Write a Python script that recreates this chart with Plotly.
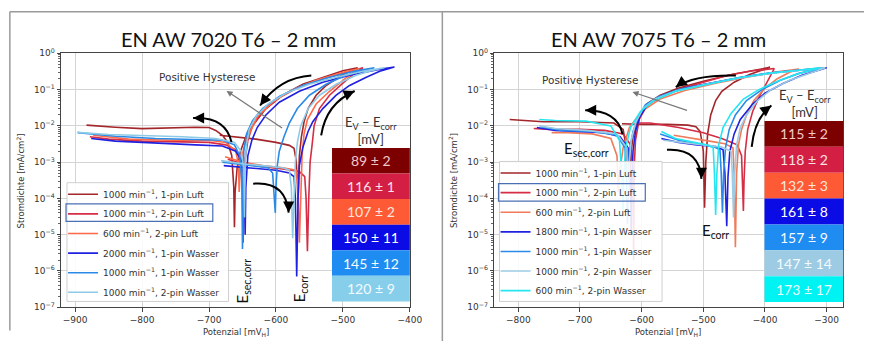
import plotly.graph_objects as go

W, H = 877, 346

# ---------------- data: EN AW 7020 T6 (left) ----------------
names_7020 = ["1000 min<sup>−1</sup>, 1-pin Luft", "1000 min<sup>−1</sup>, 2-pin Luft",
              "600 min<sup>−1</sup>, 2-pin Luft", "2000 min<sup>−1</sup>, 1-pin Wasser",
              "1000 min<sup>−1</sup>, 1-pin Wasser", "1000 min<sup>−1</sup>, 2-pin Wasser"]

E_L1 = [-684, -660, -630, -600, -580, -573, -570, -568, -567, -566, -565, -562, -558, -552, -540, -525, -505, -490, -478,
        -500, -530, -560, -590, -615, -632, -645, -653, -658, -661, -662, -663, -666, -672, -680, -690, -700, -720, -760, -800, -840, -883]
J_L1 = [5.5e-3, 5.0e-3, 4.3e-3, 3.5e-3, 2.9e-3, 2.4e-3, 1.2e-3, 3e-4, 6e-5, 4e-4, 1.5e-3, 5e-3, 1.3e-2, 3e-2, 7e-2, 0.13, 0.23, 0.32, 0.40,
        0.33, 0.22, 0.14, 0.07, 0.03, 0.012, 5e-3, 2e-3, 7e-4, 1.5e-4, 1.6e-5, 2e-4, 1.5e-3, 3.5e-3, 5.5e-3, 7.5e-3, 9e-3, 9.2e-3, 8.6e-3, 8.4e-3, 9.2e-3, 1.05e-2]

E_L2 = [-672, -650, -620, -590, -565, -557, -555, -553, -551, -549, -546, -543, -535, -520, -500, -485, -470,
        -495, -530, -565, -595, -620, -635, -642, -646, -648, -649, -650, -653, -660, -675, -700, -750, -800, -850, -878]
J_L2 = [1.2e-3, 9e-4, 7.5e-4, 6.5e-4, 5.5e-4, 4e-4, 1e-4, 3.5e-6, 1e-4, 1e-3, 3e-3, 1e-2, 3e-2, 7e-2, 0.15, 0.26, 0.40,
        0.30, 0.20, 0.12, 0.06, 0.025, 0.01, 4e-3, 1.2e-3, 2e-4, 6e-6, 2e-4, 1.2e-3, 2.2e-3, 3e-3, 3.5e-3, 3.6e-3, 3.8e-3, 4.3e-3, 5e-3]

E_L3 = [-676, -650, -620, -590, -570, -567, -565, -563, -561, -558, -553, -540, -520, -500, -487, -475,
        -500, -540, -575, -605, -628, -640, -648, -653, -655, -656, -660, -675, -700, -760, -820, -873]
J_L3 = [1.4e-3, 1e-3, 8e-4, 7e-4, 6e-4, 2e-4, 6e-6, 2e-4, 1.5e-3, 6e-3, 1.5e-2, 4e-2, 9e-2, 0.18, 0.28, 0.38,
        0.30, 0.18, 0.10, 0.045, 0.018, 6e-3, 2.5e-3, 9e-4, 1.5e-4, 9e-4, 2e-3, 3.5e-3, 4e-3, 4e-3, 4.3e-3, 5.5e-3]

E_L4 = [-678, -660, -630, -600, -580, -573, -571, -569, -567, -565, -560, -552, -545, -530, -510, -490, -465, -445, -423,
        -450, -490, -530, -565, -595, -615, -628, -636, -642, -645, -646, -647, -650, -660, -680, -720, -780, -840, -876]
J_L4 = [8e-4, 7.5e-4, 7e-4, 6e-4, 5e-4, 4e-4, 1e-4, 7e-7, 1e-4, 8e-4, 2.5e-3, 7e-3, 1.3e-2, 3e-2, 7e-2, 0.13, 0.22, 0.32, 0.42,
        0.35, 0.25, 0.16, 0.09, 0.045, 0.02, 9e-3, 4e-3, 1.5e-3, 2e-4, 1e-5, 2e-4, 1e-3, 2e-3, 2.8e-3, 3e-3, 3.3e-3, 3.8e-3, 4.5e-3]

E_L5 = [-680, -660, -635, -612, -605, -603, -601, -600, -598, -595, -588, -580, -568, -550, -525, -500, -475, -453,
        -480, -520, -560, -595, -620, -635, -644, -648, -649, -650, -651, -654, -662, -680, -720, -780, -840, -896]
J_L5 = [1e-3, 9e-4, 8e-4, 7e-4, 5e-4, 1e-4, 4e-5, 2e-4, 8e-4, 2e-3, 5e-3, 1.2e-2, 3e-2, 7e-2, 0.14, 0.23, 0.32, 0.40,
        0.33, 0.22, 0.13, 0.065, 0.03, 0.014, 6e-3, 2e-3, 4e-4, 4e-6, 3e-4, 1.5e-3, 3e-3, 4e-3, 4.2e-3, 4.5e-3, 5.2e-3, 6.5e-3]

E_L6 = [-682, -650, -620, -590, -580, -577, -575, -573, -571, -568, -563, -552, -535, -510, -480, -458, -438,
        -470, -510, -550, -585, -612, -630, -640, -644, -646, -647, -648, -652, -662, -690, -740, -800, -850, -897]
J_L6 = [1.1e-3, 9e-4, 8e-4, 7e-4, 6e-4, 2e-4, 8e-6, 2e-4, 1e-3, 3.5e-3, 1e-2, 3e-2, 7e-2, 0.14, 0.25, 0.33, 0.40,
        0.32, 0.22, 0.14, 0.08, 0.04, 0.018, 8e-3, 3e-3, 8e-4, 3e-5, 6e-4, 2e-3, 3.5e-3, 4.5e-3, 5e-3, 5.3e-3, 5.8e-3, 6.6e-3]

table_7020 = ["89 ± 2", "116 ± 1", "107 ± 2", "150 ± 11", "145 ± 12", "120 ± 9"]

# ---------------- data: EN AW 7075 T6 (right) ----------------
names_7075 = ["1000 min<sup>−1</sup>, 1-pin Luft", "1000 min<sup>−1</sup>, 2-pin Luft",
              "600 min<sup>−1</sup>, 2-pin Luft", "1800 min<sup>−1</sup>, 1-pin Wasser",
              "1000 min<sup>−1</sup>, 1-pin Wasser", "1000 min<sup>−1</sup>, 2-pin Wasser",
              "600 min<sup>−1</sup>, 2-pin Wasser"]

E_R1 = [-632, -600, -560, -525, -512, -505, -500, -498, -496, -493, -488, -480, -470, -450, -425, -405, -392,
        -410, -450, -500, -540, -570, -592, -606, -614, -618, -620, -622, -624, -630, -645, -700, -760, -790, -814]
J_R1 = [1.15e-2, 1.1e-2, 1.1e-2, 1.05e-2, 9.5e-3, 7e-3, 2e-3, 5.5e-5, 1e-3, 6e-3, 2e-2, 5e-2, 9e-2, 0.16, 0.26, 0.35, 0.41,
        0.36, 0.27, 0.17, 0.11, 0.07, 0.04, 0.015, 5e-3, 1.5e-3, 3e-4, 1e-4, 2e-3, 8e-3, 1.2e-2, 1.3e-2, 1.3e-2, 1.4e-2, 1.5e-2]

E_R2 = [-610, -586, -540, -500, -470, -445, -438, -436, -435, -434, -432, -428, -420, -410, -400, -392, -385,
        -420, -460, -500, -540, -570, -592, -604, -610, -612, -613, -614, -618, -630, -660, -700, -750, -775]
J_R2 = [1.2e-2, 1.2e-2, 9e-3, 6.5e-3, 4.5e-3, 3e-3, 1.5e-3, 2e-4, 4.5e-5, 3e-4, 2e-3, 8e-3, 2.5e-2, 6e-2, 0.13, 0.24, 0.38,
        0.33, 0.25, 0.16, 0.1, 0.065, 0.035, 0.015, 4e-3, 8e-4, 2e-6, 5e-4, 3e-3, 6e-3, 7.5e-3, 8e-3, 8e-3, 8.5e-3]

E_R3 = [-548, -520, -490, -465, -452, -450, -448, -446, -443, -438, -430, -418, -400, -380, -360, -345,
        -380, -430, -480, -530, -570, -600, -620, -630, -636, -638, -640, -650, -680, -720, -746]
J_R3 = [5.5e-3, 4.5e-3, 3.8e-3, 3.2e-3, 2.5e-3, 5e-4, 4.5e-6, 5e-4, 3e-3, 8e-3, 2e-2, 5e-2, 0.11, 0.2, 0.3, 0.37,
        0.31, 0.22, 0.15, 0.095, 0.055, 0.025, 9e-3, 2.5e-3, 5e-4, 1.5e-4, 1.5e-3, 4.5e-3, 6e-3, 6.5e-3, 6.5e-3]

E_R4 = [-568, -540, -510, -480, -468, -465, -462, -460, -457, -450, -440, -420, -400, -370, -340, -315, -300,
        -330, -380, -430, -480, -530, -565, -590, -603, -610, -614, -616, -617, -618, -622, -635, -660, -700, -740, -770]
J_R4 = [4.5e-3, 3.5e-3, 3e-3, 2.7e-3, 2.2e-3, 5e-4, 1.7e-5, 4e-4, 2e-3, 6e-3, 1.5e-2, 4e-2, 8e-2, 0.15, 0.25, 0.33, 0.40,
        0.36, 0.30, 0.23, 0.16, 0.11, 0.07, 0.04, 0.018, 7e-3, 2e-3, 3e-4, 1e-5, 3e-4, 2.5e-3, 5e-3, 6.5e-3, 7e-3, 7.5e-3, 9e-3]

E_R5 = [-570, -540, -510, -485, -473, -471, -469, -467, -464, -458, -448, -430, -405, -375, -345, -320, -305,
        -340, -390, -440, -490, -540, -572, -594, -606, -614, -620, -622, -623, -624, -627, -640, -680, -730, -765]
J_R5 = [6e-3, 4e-3, 3.2e-3, 2.8e-3, 2.2e-3, 5e-4, 4e-5, 5e-4, 2.5e-3, 8e-3, 2e-2, 5e-2, 0.1, 0.18, 0.28, 0.35, 0.40,
        0.35, 0.29, 0.22, 0.15, 0.1, 0.065, 0.038, 0.017, 7e-3, 2e-3, 3e-4, 2e-5, 3e-4, 2.5e-3, 5.5e-3, 7e-3, 7.5e-3, 9.5e-3]

E_R6 = [-565, -530, -500, -470, -455, -453, -451, -449, -446, -440, -430, -412, -390, -360, -330, -310, -302,
        -335, -385, -440, -495, -545, -578, -598, -610, -617, -620, -622, -624, -640, -690, -740, -766]
J_R6 = [4e-3, 3.5e-3, 3e-3, 2.6e-3, 2e-3, 5e-4, 3e-5, 5e-4, 3e-3, 9e-3, 2e-2, 5e-2, 0.1, 0.18, 0.28, 0.36, 0.40,
        0.35, 0.29, 0.21, 0.14, 0.09, 0.055, 0.03, 0.012, 4e-3, 1e-3, 1e-4, 2.5e-3, 6e-3, 7.5e-3, 8.5e-3, 1e-2]

E_R7 = [-568, -545, -515, -495, -484, -482, -480, -478, -475, -468, -455, -435, -410, -380, -350, -325, -310,
        -345, -395, -445, -495, -545, -580, -602, -618, -626, -629, -630, -632, -636, -650, -690, -740, -766]
J_R7 = [7e-3, 4.5e-3, 3.5e-3, 3e-3, 2.5e-3, 5e-4, 3.5e-5, 5e-4, 3e-3, 9e-3, 2.2e-2, 5.5e-2, 0.1, 0.17, 0.26, 0.34, 0.40,
        0.34, 0.28, 0.21, 0.14, 0.09, 0.05, 0.025, 9e-3, 2.5e-3, 4e-4, 3e-5, 4e-4, 4e-3, 1e-2, 1.35e-2, 1.4e-2, 1.5e-2]

table_7075 = ["115 ± 2", "118 ± 2", "132 ± 3", "161 ± 8", "157 ± 9", "147 ± 14", "173 ± 17"]

y_tickvals = [1, 1e-1, 1e-2, 1e-3, 1e-4, 1e-5, 1e-6, 1e-7]
y_ticktext = ["10<sup>0</sup>", "10<sup>−1</sup>", "10<sup>−2</sup>", "10<sup>−3</sup>",
              "10<sup>−4</sup>", "10<sup>−5</sup>", "10<sup>−6</sup>", "10<sup>−7</sup>"]
x_ticks_7020 = [-900, -800, -700, -600, -500, -400]
x_ticks_7075 = [-800, -700, -600, -500, -400, -300]

# ---------------- styles ----------------
line_colors_7020 = ["#a3262a", "#d42d44", "#ff6a4a", "#2020e0", "#2b8ae8", "#8ecae6"]
line_colors_7075 = ["#a3262a", "#d42d44", "#f07a5a", "#2020e0", "#2b8ae8", "#9ccbe3", "#25e6f0"]
cell_colors_7020 = ["#7d0000", "#d41f44", "#ff5a36", "#0b0be6", "#1e8cf0", "#87ceeb"]
cell_colors_7075 = ["#7d0000", "#d41f44", "#ff5a36", "#0b0be6", "#1e8cf0", "#9ccbe3", "#00f3f3"]
cell_text_7020 = ["#f2c9c9", "#fbe0e4", "#ffe6dc", "#ffffff", "#f4faff", "#f4fbff"]
cell_text_7075 = ["#f2c9c9", "#fbe0e4", "#ffe6dc", "#ffffff", "#f4faff", "#f4fbff", "#e8ffff"]

TICKFONT = dict(family="DejaVu Sans", size=9, color="#333")
LEGFONT = dict(family="DejaVu Sans", size=9, color="#333")


def px(x):
    return x / W


def py(y):
    return 1 - y / H


fig = go.Figure()

series_7020 = [(E_L1, J_L1), (E_L2, J_L2), (E_L3, J_L3), (E_L4, J_L4), (E_L5, J_L5), (E_L6, J_L6)]
for i, ((e, j), n, c) in enumerate(zip(series_7020, names_7020, line_colors_7020)):
    fig.add_trace(go.Scatter(x=e, y=j, mode="lines", name=n, line=dict(color=c, width=1.6),
                             xaxis="x", yaxis="y", legend="legend", legendgroup="a%d" % i))

series_7075 = [(E_R1, J_R1), (E_R2, J_R2), (E_R3, J_R3), (E_R4, J_R4), (E_R5, J_R5), (E_R6, J_R6), (E_R7, J_R7)]
for i, ((e, j), n, c) in enumerate(zip(series_7075, names_7075, line_colors_7075)):
    fig.add_trace(go.Scatter(x=e, y=j, mode="lines", name=n, line=dict(color=c, width=1.6),
                             xaxis="x2", yaxis="y2", legend="legend2", legendgroup="b%d" % i))

minor_vals = [k * 10.0 ** e for e in range(-7, 0) for k in range(2, 10)]

common_x = dict(showgrid=True, gridcolor="#d4d4d4", gridwidth=1, showline=True, mirror=True,
                linecolor="#444", linewidth=1, ticks="outside", ticklen=3.5, tickcolor="#444",
                tickfont=TICKFONT, zeroline=False, tickmode="array")
common_y = dict(type="log", range=[-7, 0], showgrid=True, gridcolor="#d4d4d4", gridwidth=1,
                showline=True, mirror=True, linecolor="#444", linewidth=1, ticks="outside",
                ticklen=3.5, tickcolor="#444", tickfont=TICKFONT, tickmode="array",
                tickvals=y_tickvals, ticktext=y_ticktext,
                minor=dict(tickvals=minor_vals, ticks="outside", ticklen=2, tickcolor="#666", showgrid=False))

ydom = [py(311), py(48)]
fig.update_layout(
    width=W, height=H, margin=dict(l=0, r=0, t=0, b=0),
    paper_bgcolor="white", plot_bgcolor="white", showlegend=True,
    xaxis=dict(domain=[px(62), px(416)], range=[-921, -400], tickvals=x_ticks_7020,
               ticktext=[str(v).replace("-", "−") for v in x_ticks_7020], anchor="y", **common_x),
    yaxis=dict(domain=ydom, anchor="x", **common_y),
    xaxis2=dict(domain=[px(501.7), px(856)], range=[-839, -273], tickvals=x_ticks_7075,
                ticktext=[str(v).replace("-", "−") for v in x_ticks_7075], anchor="y2", **common_x),
    yaxis2=dict(domain=ydom, anchor="x2", **common_y),
    legend=dict(x=px(64), y=py(179), xanchor="left", yanchor="top", bgcolor="rgba(0,0,0,0)",
                borderwidth=0, font=LEGFONT, tracegroupgap=0.6, traceorder="grouped"),
    legend2=dict(x=px(503), y=py(157), xanchor="left", yanchor="top", bgcolor="rgba(0,0,0,0)",
                 borderwidth=0, font=LEGFONT, tracegroupgap=0.6, traceorder="grouped"),
)

shapes = []
annotations = []

# frame lines of the screenshot
for (x0, y0, x1, y1) in [(10, 5, 877, 5), (10, 5, 10, 335), (449, 5, 449, 346)]:
    shapes.append(dict(type="line", xref="paper", yref="paper", x0=px(x0), y0=py(y0), x1=px(x1), y1=py(y1),
                       line=dict(color="#9a9a9a", width=1.5)))


def text(x, y, s, size, color="#333", family="DejaVu Sans", angle=0, xanchor="center"):
    annotations.append(dict(xref="paper", yref="paper", x=px(x), y=py(y), text=s, showarrow=False,
                            font=dict(family=family, size=size, color=color), textangle=angle,
                            xanchor=xanchor, yanchor="middle"))


def curved_arrow(p0, c, p1, tail):
    path = "M {},{} Q {},{} {},{}".format(px(p0[0]), py(p0[1]), px(c[0]), py(c[1]), px(p1[0]), py(p1[1]))
    shapes.append(dict(type="path", xref="paper", yref="paper", path=path, line=dict(color="black", width=2)))
    annotations.append(dict(xref="paper", yref="paper", x=px(p1[0]), y=py(p1[1]), ax=tail[0], ay=tail[1],
                            text="", showarrow=True, arrowhead=2, arrowsize=1.1, arrowwidth=2,
                            arrowcolor="black", standoff=0))


def straight_arrow(tail, head, color="#777"):
    annotations.append(dict(xref="paper", yref="paper", x=px(head[0]), y=py(head[1]),
                            ax=tail[0] - head[0], ay=tail[1] - head[1], text="", showarrow=True,
                            arrowhead=2, arrowsize=1, arrowwidth=1.2, arrowcolor=color, standoff=0))


def table(x0, x1, ytop, rowh, vals, fills, tcolors, hx, hy):
    for i, (v, f, tc) in enumerate(zip(vals, fills, tcolors)):
        shapes.append(dict(type="rect", xref="paper", yref="paper", x0=px(x0), x1=px(x1),
                           y0=py(ytop + i * rowh), y1=py(ytop + (i + 1) * rowh),
                           fillcolor=f, line=dict(width=0), layer="above"))
        text((x0 + x1) / 2, ytop + (i + 0.5) * rowh, v, 14, color=tc, family="Lato")
    text(hx, hy, "E<sub>V</sub> – E<sub>corr</sub><br>[mV]", 13, family="Lato", color="#333")


def legend_box(x0, y0, x1, y1, hy0, hx1):
    shapes.append(dict(type="rect", xref="paper", yref="paper", x0=px(x0), x1=px(x1), y0=py(y0), y1=py(y1),
                       fillcolor="rgba(255,255,255,0.88)", line=dict(color="#cfcfcf", width=1), layer="above"))
    shapes.append(dict(type="rect", xref="paper", yref="paper", x0=px(x0 - 1), x1=px(hx1), y0=py(hy0),
                       y1=py(hy0 + 18), line=dict(color="#4a6fb5", width=1.2), layer="above"))


# ----- left panel decorations -----
text(232, 33, "EN AW 7020 T6 – 2 mm", 20, color="#111", family="Lato")
text(240, 337, "Potenzial [mV<sub>H</sub>]", 8.5)
text(21, 180, "Stromdichte [mA/cm<sup>2</sup>]", 8.5, angle=-90)
text(210, 72, "Positive Hysterese", 10.5, color="#333")
straight_arrow((287, 125), (230, 87))
curved_arrow((235, 140), (229, 113), (196, 115), (10, 0))
curved_arrow((316, 71), (284, 73), (264, 102), (6, -8))
curved_arrow((326, 133), (331, 100), (360, 87), (-9, 4))
curved_arrow((257, 183), (290, 180), (293, 213), (0, -10))
text(247, 284, "E<sub>sec,corr</sub>", 15, family="Lato", color="#111", angle=-90)
text(304, 292, "E<sub>corr</sub>", 15, family="Lato", color="#111", angle=-90)
table(337, 416, 146, 26.5, table_7020, cell_colors_7020, cell_text_7020, 377, 128)
legend_box(68, 182, 232, 305, 204, 216)

# ----- right panel decorations -----
text(668, 33, "EN AW 7075 T6 – 2 mm", 20, color="#111", family="Lato")
text(678, 337, "Potenzial [mV<sub>H</sub>]", 8.5)
text(460, 180, "Stromdichte [mA/cm<sup>2</sup>]", 8.5, angle=-90)
text(599, 76, "Positive Hysterese", 10.5, color="#333")
straight_arrow((698, 107), (642, 88))
curved_arrow((632, 132), (627, 107), (594, 107), (10, 0))
curved_arrow((747, 71), (705, 70), (686, 83), (8, -6))
curved_arrow((763, 145), (766, 115), (783, 102), (-8, 6))
curved_arrow((677, 148), (710, 146), (712, 178), (0, -10))
text(595, 147, "E<sub>sec,corr</sub>", 15, family="Lato", color="#111")
text(726, 232, "E<sub>corr</sub>", 15, family="Lato", color="#111")
table(776, 856, 118, 26.8, table_7075, cell_colors_7075, cell_text_7075, 817, 100)
legend_box(507, 160, 672, 305, 183, 655)

fig.update_layout(shapes=shapes, annotations=annotations)
fig.write_html("out.html")
